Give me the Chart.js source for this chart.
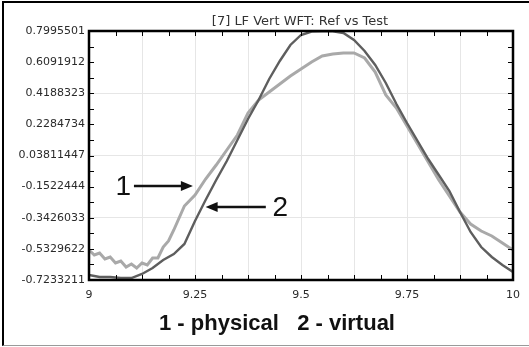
<!DOCTYPE html>
<html>
<head>
<meta charset="utf-8">
<script src="https://cdn.jsdelivr.net/npm/chart.js@4/dist/chart.umd.min.js"></script>
<style>
html,body{margin:0;padding:0;background:#fff;}
#wrap{position:relative;width:529px;height:347px;overflow:hidden;}
#c{position:absolute;left:0;top:0;}
#frame{position:absolute;left:2px;top:1px;width:527px;height:342px;border-top:2px solid #000;border-left:2px solid #000;border-bottom:1px solid #9a9a9a;pointer-events:none;}
</style>
</head>
<body>
<div id="wrap">
<canvas id="c" width="529" height="347"></canvas>
<div id="frame"></div>
</div>
<script>
// ---------- data ----------
const titleText = '[7] LF Vert WFT: Ref vs Test';
const legendText = '1 - physical   2 - virtual';

const yTickValues = [-0.7233211, -0.5329622, -0.3426033, -0.1522444, 0.03811447, 0.2284734, 0.4188323, 0.6091912, 0.7995501];
const yTickLabels = ['-0.7233211', '-0.5329622', '-0.3426033', '-0.1522444', '0.03811447', '0.2284734', '0.4188323', '0.6091912', '0.7995501'];
const xTickValues = [9, 9.125, 9.25, 9.375, 9.5, 9.625, 9.75, 9.875, 10];
const xTickLabels = ['9', '', '9.25', '', '9.5', '', '9.75', '', '10'];

// series 1 - physical (light grey)
const physicalX = [9, 9.0125, 9.025, 9.0375, 9.05, 9.0625, 9.075, 9.0875, 9.1, 9.1125, 9.125, 9.1375, 9.15, 9.1625, 9.175, 9.1875, 9.2,
  9.225, 9.25, 9.275, 9.3, 9.325, 9.35, 9.375, 9.4, 9.425, 9.45, 9.475, 9.5, 9.525, 9.55, 9.575, 9.6, 9.625, 9.65, 9.675, 9.7,
  9.725, 9.75, 9.775, 9.8, 9.825, 9.85, 9.875, 9.9, 9.925, 9.95, 9.975, 10];
const physicalY = [-0.5398, -0.5704, -0.5582, -0.5949, -0.5826, -0.6193, -0.6071, -0.6438, -0.6254, -0.6499, -0.6193, -0.6316, -0.5888, -0.5888, -0.5215, -0.4848, -0.4175,
  -0.2707, -0.2034, -0.1056, -0.0200, 0.0718, 0.1635, 0.2981, 0.3776, 0.4265, 0.4754, 0.5244, 0.5672, 0.6100, 0.6467, 0.6589, 0.6650, 0.6650, 0.6345, 0.5488, 0.4082,
  0.3287, 0.2186, 0.1085, -0.0016, -0.1117, -0.2096, -0.3074, -0.3808, -0.4236, -0.4542, -0.4970, -0.5398];

// series 2 - virtual (dark grey)
const virtualX = [9, 9.025, 9.05, 9.075, 9.1, 9.125, 9.15, 9.175, 9.2, 9.225, 9.25, 9.275, 9.3, 9.325, 9.35, 9.375, 9.4, 9.425, 9.45, 9.475, 9.5,
  9.525, 9.55, 9.575, 9.6, 9.625, 9.65, 9.675, 9.7, 9.725, 9.75, 9.775, 9.8, 9.825, 9.85, 9.875, 9.9, 9.925, 9.95, 9.975, 10];
const virtualY = [-0.6927, -0.7050, -0.7050, -0.7111, -0.7111, -0.6866, -0.6499, -0.6010, -0.5643, -0.5031, -0.3625, -0.2340, -0.1117, 0.0045, 0.1329, 0.2614, 0.3776, 0.5060, 0.6161, 0.7140, 0.7751,
  0.7960, 0.7980, 0.7970, 0.7874, 0.7445, 0.6773, 0.5916, 0.4816, 0.3531, 0.2369, 0.1268, 0.0167, -0.0811, -0.1790, -0.3074, -0.4297, -0.5215, -0.5826, -0.6316, -0.6744];

// ---------- chart ----------
const FONT = "'Liberation Sans', Arial, sans-serif";
const AXFONT = "'DejaVu Sans', Verdana, sans-serif";
const toPts = (xs, ys) => xs.map((x, i) => ({x: x, y: ys[i]}));

const decor = {
  id: 'decor',
  afterDatasetsDraw(chart) {
    const ctx = chart.ctx;
    const a = chart.chartArea;
    const xs = chart.scales.x, ys = chart.scales.y;
    ctx.save();
    // inward tick marks
    ctx.strokeStyle = '#000';
    ctx.lineWidth = 1;
    ctx.beginPath();
    for (let i = 0; i < yTickValues.length; i++) {
      const vals = [yTickValues[i]];
      if (i < yTickValues.length - 1) vals.push((yTickValues[i] + yTickValues[i + 1]) / 2);
      vals.forEach(v => {
        const p = Math.round(ys.getPixelForValue(v)) + 0.5;
        ctx.moveTo(a.left, p); ctx.lineTo(a.left + 5, p);
        ctx.moveTo(a.right, p); ctx.lineTo(a.right - 5, p);
      });
    }
    for (let i = 0; i < xTickValues.length; i++) {
      const vals = [xTickValues[i]];
      if (i < xTickValues.length - 1) vals.push((xTickValues[i] + xTickValues[i + 1]) / 2);
      vals.forEach(v => {
        const p = Math.round(xs.getPixelForValue(v)) + 0.5;
        ctx.moveTo(p, a.top); ctx.lineTo(p, a.top + 5);
        ctx.moveTo(p, a.bottom); ctx.lineTo(p, a.bottom - 5);
      });
    }
    ctx.stroke();
    // plot frame
    ctx.lineWidth = 2.5;
    ctx.strokeStyle = '#000';
    ctx.strokeRect(a.left, a.top, a.right - a.left, a.bottom - a.top);

    // title
    ctx.fillStyle = '#333';
    ctx.font = '13px ' + AXFONT;
    ctx.textAlign = 'center';
    ctx.textBaseline = 'middle';
    ctx.fillText(titleText, (a.left + a.right) / 2 - 1, 22);

    // bottom legend text
    ctx.fillStyle = '#111';
    ctx.font = 'bold 22px ' + FONT;
    ctx.fillText(legendText, 277, 324);

    // annotations: labels with arrows
    const arrow = (x1, x2, y) => {
      const px1 = xs.getPixelForValue(x1), px2 = xs.getPixelForValue(x2), py = ys.getPixelForValue(y);
      const dir = px2 > px1 ? 1 : -1;
      ctx.strokeStyle = '#111';
      ctx.lineWidth = 2.5;
      ctx.beginPath();
      ctx.moveTo(px1, py); ctx.lineTo(px2 - dir * 8, py);
      ctx.stroke();
      ctx.fillStyle = '#111';
      ctx.beginPath();
      ctx.moveTo(px2, py);
      ctx.lineTo(px2 - dir * 12, py - 5);
      ctx.lineTo(px2 - dir * 12, py + 5);
      ctx.closePath();
      ctx.fill();
    };
    ctx.font = '28px ' + FONT;
    ctx.fillStyle = '#111';
    ctx.fillText('1', xs.getPixelForValue(9.081), ys.getPixelForValue(-0.1484) + 1);
    arrow(9.106, 9.245, -0.1484);
    ctx.fillStyle = '#111';
    ctx.fillText('2', xs.getPixelForValue(9.451), ys.getPixelForValue(-0.2768) + 1);
    arrow(9.417, 9.275, -0.2768);
    ctx.restore();
  }
};

new Chart(document.getElementById('c'), {
  type: 'line',
  data: {
    datasets: [
      {
        label: '2 - virtual',
        data: toPts(virtualX, virtualY),
        borderColor: '#5e5e5e',
        borderWidth: 2.4,
        pointRadius: 0,
        tension: 0,
        order: 0
      },
      {
        label: '1 - physical',
        data: toPts(physicalX, physicalY),
        borderColor: '#a9a9a9',
        borderWidth: 3,
        pointRadius: 0,
        tension: 0,
        order: 1
      }
    ]
  },
  options: {
    responsive: false,
    animation: false,
    devicePixelRatio: 1,
    layout: {padding: {left: 0, right: 8, top: 31, bottom: 0}},
    plugins: {legend: {display: false}, title: {display: false}, tooltip: {enabled: false}},
    scales: {
      x: {
        type: 'linear',
        min: 9, max: 10,
        afterBuildTicks: s => { s.ticks = xTickValues.map(v => ({value: v})); },
        afterFit: s => { s.height = 67; },
        ticks: {
          autoSkip: false,
          maxRotation: 0,
          padding: 9,
          color: '#2a2a2a',
          font: {family: AXFONT, size: 11},
          callback: (v, i) => xTickLabels[i]
        },
        grid: {color: '#e6e6e6', lineWidth: 1, drawTicks: false},
        border: {display: false}
      },
      y: {
        type: 'linear',
        min: -0.7233211, max: 0.7995501,
        afterBuildTicks: s => { s.ticks = yTickValues.map(v => ({value: v})); },
        afterFit: s => { s.width = 89; },
        ticks: {
          autoSkip: false,
          padding: 4,
          color: '#2a2a2a',
          font: {family: AXFONT, size: 11},
          callback: (v, i) => yTickLabels[i]
        },
        grid: {
          color: c => (c.index % 2 === 0 ? '#e6e6e6' : 'rgba(0,0,0,0)'),
          lineWidth: 1,
          drawTicks: false
        },
        border: {display: false}
      }
    }
  },
  plugins: [decor]
});
</script>
</body>
</html>
